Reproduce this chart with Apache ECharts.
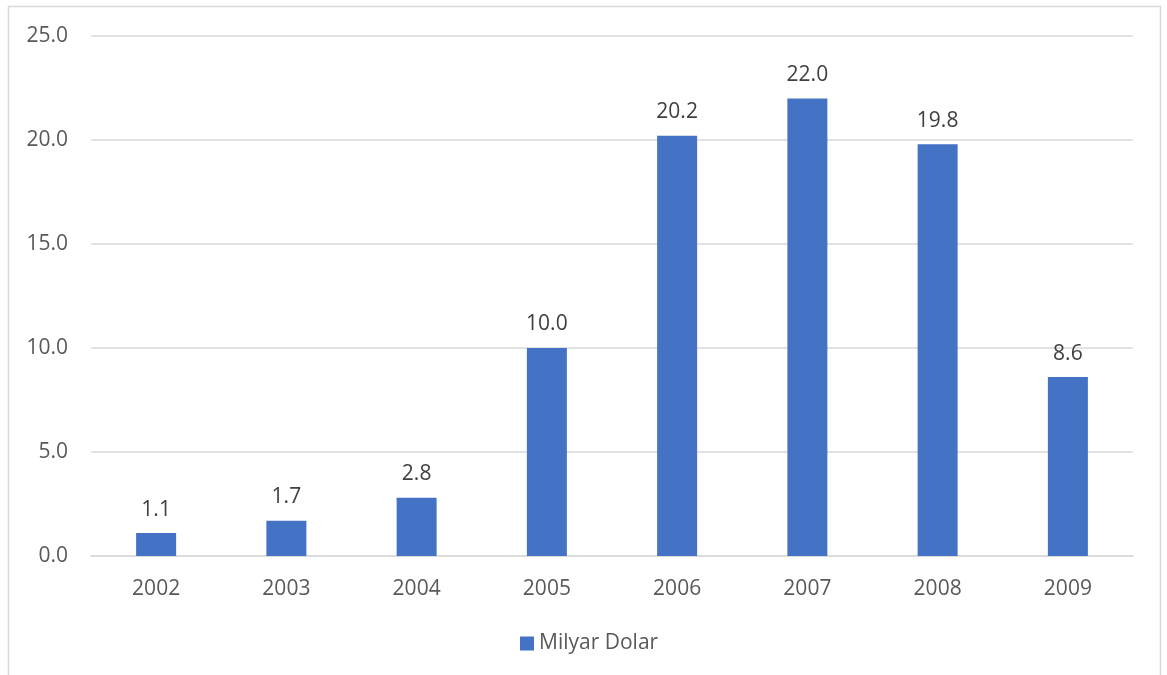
<!DOCTYPE html>
<html>
<head>
<meta charset="utf-8">
<script src="https://cdn.jsdelivr.net/npm/echarts@6/dist/echarts.min.js"></script>
<style>
html,body{margin:0;padding:0;background:#fff;}
#chart{width:1167px;height:675px;}
</style>
</head>
<body>
<div id="chart"></div>
<script>
// Yearly totals, billion dollars
const years = ['2002', '2003', '2004', '2005', '2006', '2007', '2008', '2009'];
const values = [1.1, 1.7, 2.8, 10.0, 20.2, 22.0, 19.8, 8.6];
const seriesName = 'Milyar Dolar';

const FONT = '"Open Sans", "Noto Sans", sans-serif';
const FS = 21;
const chart = echarts.init(document.getElementById('chart'));
chart.setOption({
  animation: false,
  backgroundColor: '#fff',
  graphic: [{
    type: 'rect',
    shape: { x: 8.5, y: 6.5, width: 1152, height: 700 },
    style: { fill: 'none', stroke: '#d9d9d9', lineWidth: 1.5 },
    silent: true
  }],
  grid: { left: 91, right: 34, top: 36, bottom: 119 },
  legend: {
    top: 628,
    left: 515,
    itemWidth: 14,
    itemHeight: 14,
    itemGap: 6,
    icon: 'rect',
    textStyle: { color: '#595959', fontSize: FS, fontFamily: FONT },
    data: [seriesName]
  },
  xAxis: {
    type: 'category',
    data: years,
    axisLine: { lineStyle: { color: '#d9d9d9', width: 1.5 } },
    axisTick: { show: false },
    axisLabel: { color: '#595959', fontSize: FS, fontFamily: FONT, margin: 23 }
  },
  yAxis: {
    type: 'value',
    min: 0,
    max: 25,
    interval: 5,
    axisLine: { show: false },
    axisTick: { show: false },
    splitLine: { lineStyle: { color: '#d9d9d9', width: 1.5 } },
    axisLabel: {
      color: '#595959', fontSize: FS, fontFamily: FONT, margin: 23,
      formatter: v => v.toFixed(1)
    }
  },
  series: [{
    name: seriesName,
    type: 'bar',
    data: values,
    barWidth: 40,
    itemStyle: { color: '#4472C4' },
    label: {
      show: true,
      position: 'top',
      distance: 13,
      color: '#404040',
      fontSize: FS,
      fontFamily: FONT,
      formatter: p => p.value.toFixed(1)
    }
  }]
});
</script>
</body>
</html>
